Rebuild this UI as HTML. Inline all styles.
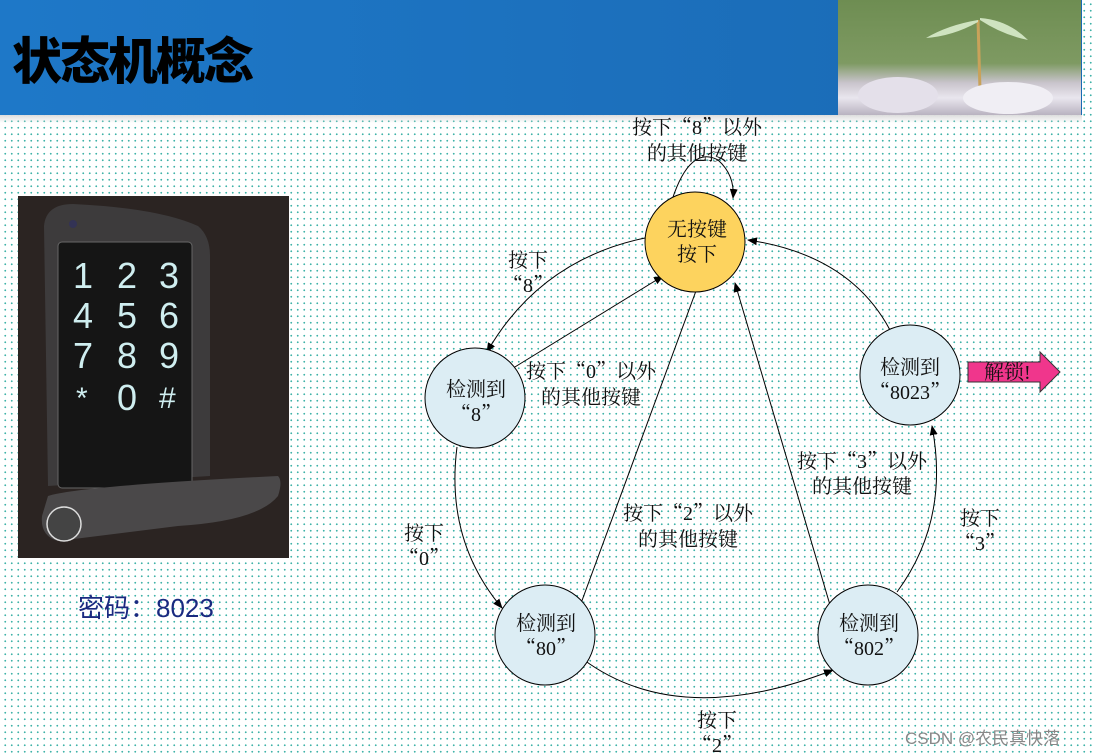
<!DOCTYPE html>
<html><head><meta charset="utf-8"><style>
html,body{margin:0;padding:0}
body{width:1094px;height:756px;position:relative;overflow:hidden;background:#fff;
background-image:radial-gradient(circle,#3fb3a8 0.8px,transparent 1.1px);background-size:6.5px 6.5px;background-position:2px 118px;
font-family:"Liberation Serif","Noto Serif CJK SC",serif}
.hdr{position:absolute;left:0;top:0;width:1082px;height:115px;background:linear-gradient(90deg,#1e78c8,#1a6ab4);}
.hdr h1{position:absolute;left:12px;top:22px;margin:0;font:900 50px "Liberation Sans","Noto Sans CJK SC",sans-serif;color:#000;letter-spacing:-2px}
.photo{position:absolute;left:838px;top:0;width:243px;height:115px;background:linear-gradient(180deg,#6e8d52 0%,#7e9a62 55%,#c9c4cc 72%,#e9e6ee 85%,#b9b2c0 100%)}
.shadow{position:absolute;left:0;top:115px;width:1082px;height:8px;background:linear-gradient(#ddd,#fff0)}
.q{font-family:"Noto Serif CJK SC","Noto Sans CJK SC",serif}
</style></head><body>
<div class="hdr"><h1>状态机概念</h1></div>
<div class="photo"><svg width="243" height="115"><path d="M140 20 L142 90" stroke="#c9a25a" stroke-width="3"/><path d="M140 20 Q110 25 88 38 Q115 36 140 22Z" fill="#cfe3c0"/><path d="M142 18 Q170 20 190 40 Q165 35 142 20Z" fill="#cfe3c0"/><ellipse cx="60" cy="95" rx="40" ry="18" fill="#e4e0ea"/><ellipse cx="170" cy="98" rx="45" ry="16" fill="#f0eef4"/></svg></div>
<div class="shadow"></div>
<div style="position:absolute;left:18px;top:196px;width:271px;height:362px;background:#2b2422"></div>
<svg style="position:absolute;left:18px;top:196px" width="271" height="362">
<path d="M26 30 Q28 8 55 8 Q140 12 180 30 Q192 40 192 60 L192 280 L30 290 Z" fill="#3d3b3c"/>
<rect x="40" y="46" width="134" height="246" rx="4" fill="#151515" stroke="#666"/>
<g fill="#cfeef0" font-family="Liberation Sans,sans-serif" font-size="36">
<text x="55" y="92">1</text><text x="99" y="92">2</text><text x="141" y="92">3</text>
<text x="55" y="132">4</text><text x="99" y="132">5</text><text x="141" y="132">6</text>
<text x="55" y="172">7</text><text x="99" y="172">8</text><text x="141" y="172">9</text>
<text x="58" y="212" font-size="30">*</text><text x="99" y="214">0</text><text x="141" y="212" font-size="30">#</text></g>
<path d="M30 300 Q60 290 260 280 Q265 285 260 300 Q240 325 160 330 L40 345 Q22 340 24 320Z" fill="#4a4849"/>
<circle cx="46" cy="328" r="17" fill="#444" stroke="#ddd" stroke-width="1.5"/>
<circle cx="55" cy="28" r="4" fill="#335"/>
</svg>
<div style="position:absolute;left:78px;top:588px;font:26px 'Liberation Sans','Noto Sans CJK SC',sans-serif;color:#1a2a80">密码：8023</div>

<svg style="position:absolute;left:0;top:0" width="1094" height="756" font-size="20" font-family="Liberation Serif,Noto Serif CJK SC,serif">
<defs><marker id="a" markerWidth="10" markerHeight="8" refX="9" refY="4" orient="auto" markerUnits="userSpaceOnUse"><path d="M0 0L10 4L0 8Z" fill="#000"/></marker></defs>
<g fill="none" stroke="#000" stroke-width="1" marker-end="url(#a)">
<path d="M672 200 Q690 145 718 160 Q735 175 733 198"/>
<path d="M645 238 Q540 260 487 352"/>
<path d="M510 370 L663 276"/>
<path d="M457 447 Q445 540 502 608"/>
<path d="M580 606 L700 280"/>
<path d="M584 660 Q680 730 833 670"/>
<path d="M830 605 L735 283"/>
<path d="M897 592 Q950 520 932 426"/>
<path d="M890 330 Q850 255 748 240"/>
</g>
<circle cx="695" cy="242" r="50" fill="#fdd35e" stroke="#000"/>
<circle cx="475" cy="398" r="50" fill="#dcedf4" stroke="#000"/>
<circle cx="545" cy="635" r="50" fill="#dcedf4" stroke="#000"/>
<circle cx="868" cy="635" r="50" fill="#dcedf4" stroke="#000"/>
<circle cx="910" cy="375" r="50" fill="#dcedf4" stroke="#000"/>
<g text-anchor="middle" fill="#111">
<text x="697" y="236">无按键</text><text x="697" y="261">按下</text>
<text x="476" y="396">检测到</text><text x="476" y="421"><tspan class="q">“</tspan>8<tspan class="q">”</tspan></text>
<text x="546" y="630">检测到</text><text x="546" y="655"><tspan class="q">“</tspan>80<tspan class="q">”</tspan></text>
<text x="869" y="630">检测到</text><text x="869" y="655"><tspan class="q">“</tspan>802<tspan class="q">”</tspan></text>
<text x="910" y="374">检测到</text><text x="910" y="399"><tspan class="q">“</tspan>8023<tspan class="q">”</tspan></text>
<text x="697" y="134">按下<tspan class="q">“</tspan>8<tspan class="q">”</tspan>以外</text><text x="697" y="160">的其他按键</text>
<text x="528" y="267">按下</text><text x="528" y="292"><tspan class="q">“</tspan>8<tspan class="q">”</tspan></text>
<text x="591" y="378">按下<tspan class="q">“</tspan>0<tspan class="q">”</tspan>以外</text><text x="591" y="404">的其他按键</text>
<text x="424" y="540">按下</text><text x="424" y="565"><tspan class="q">“</tspan>0<tspan class="q">”</tspan></text>
<text x="688" y="520">按下<tspan class="q">“</tspan>2<tspan class="q">”</tspan>以外</text><text x="688" y="546">的其他按键</text>
<text x="862" y="468">按下<tspan class="q">“</tspan>3<tspan class="q">”</tspan>以外</text><text x="862" y="493">的其他按键</text>
<text x="980" y="525">按下</text><text x="980" y="550"><tspan class="q">“</tspan>3<tspan class="q">”</tspan></text>
<text x="717" y="727">按下</text><text x="717" y="752"><tspan class="q">“</tspan>2<tspan class="q">”</tspan></text>
</g>
<path d="M968 362 L1040 362 L1040 352 L1060 372 L1040 392 L1040 382 L968 382Z" fill="#f0368c" stroke="#333"/>
<text x="984" y="379" fill="#111">解锁!</text>
<text x="905" y="744" font-family="Liberation Sans,Noto Sans CJK SC,sans-serif" font-size="17" fill="#888">CSDN @农民真快落</text>
</svg>
</body></html>
